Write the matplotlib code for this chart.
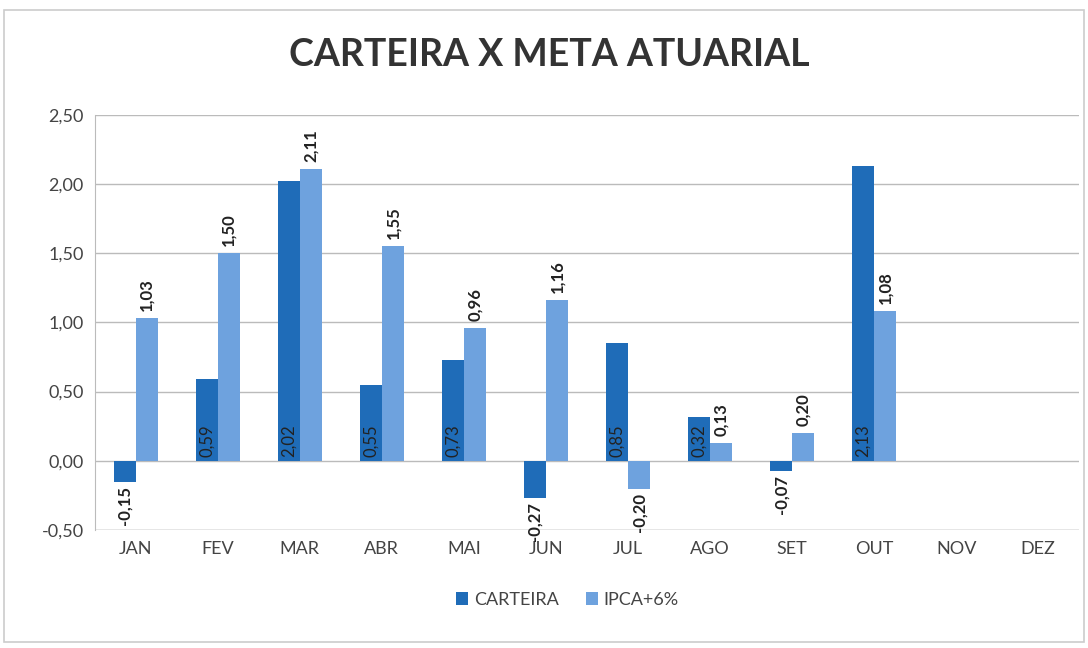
import numpy as np
import matplotlib
matplotlib.use('Agg')
import matplotlib.pyplot as plt
from matplotlib.patches import Rectangle

plt.rcParams['font.family'] = ['Lato', 'DejaVu Sans']

# dados
meses = ['JAN', 'FEV', 'MAR', 'ABR', 'MAI', 'JUN', 'JUL', 'AGO', 'SET', 'OUT', 'NOV', 'DEZ']
carteira = [-0.15, 0.59, 2.02, 0.55, 0.73, -0.27, 0.85, 0.32, -0.07, 2.13]
ipca6 = [1.03, 1.50, 2.11, 1.55, 0.96, 1.16, -0.20, 0.13, 0.20, 1.08]
yticks = [-0.5, 0.0, 0.5, 1.0, 1.5, 2.0, 2.5]

cor_cart = '#1f6cb8'
cor_ipca = '#6ea2de'

def fmt(v):
    return ('%.2f' % v).replace('.', ',')

fig = plt.figure(figsize=(10.88, 6.48), dpi=100)
ax = fig.add_axes([0.087, 0.182, 0.905, 0.641])

x = np.arange(len(meses))
w = 0.27
xc = x[:len(carteira)] - w/2
xi = x[:len(ipca6)] + w/2

ax.bar(xc, carteira, w, color=cor_cart, label='CARTEIRA', zorder=3)
ax.bar(xi, ipca6, w, color=cor_ipca, label='IPCA+6%', zorder=3)

# rotulos da carteira
for xx, v in zip(xc, carteira):
    if v >= 0:
        ax.text(xx, 0.03, fmt(v), rotation=90, ha='center', va='bottom',
                fontsize=12, color='#222222', zorder=4)
    else:
        ax.text(xx, v - 0.03, fmt(v), rotation=90, ha='center', va='top',
                fontsize=12, fontweight='bold', color='#222222', zorder=4)

# rotulos do IPCA+6%
for xx, v in zip(xi, ipca6):
    if v >= 0:
        ax.text(xx, v + 0.05, fmt(v), rotation=90, ha='center', va='bottom',
                fontsize=12, fontweight='bold', color='#222222', zorder=4)
    else:
        ax.text(xx, v - 0.03, fmt(v), rotation=90, ha='center', va='top',
                fontsize=12, fontweight='bold', color='#222222', zorder=4)

ax.set_xlim(-0.5, len(meses) - 0.5)
ax.set_ylim(-0.5, 2.5)
ax.set_yticks(yticks)
ax.set_yticklabels([fmt(t) for t in yticks], fontsize=13, color='#444444')
ax.set_xticks(x)
ax.set_xticklabels(meses, fontsize=13, color='#444444')
ax.tick_params(axis='both', length=0, pad=8)
ax.grid(axis='y', color='#bbbbbb', linewidth=1, zorder=0)
for s in ['top', 'right', 'bottom']:
    ax.spines[s].set_visible(False)
ax.spines['left'].set_color('#bbbbbb')
ax.axhline(-0.5, color='#bbbbbb', linewidth=1, zorder=1)

fig.text(0.505, 0.915, 'CARTEIRA X META ATUARIAL', ha='center', va='center',
         fontsize=27, fontweight='bold', color='#333333')

ax.legend(loc='upper center', bbox_to_anchor=(0.48, -0.11), ncol=2, frameon=False,
          fontsize=13, handlelength=0.7, handleheight=0.7, columnspacing=1.5,
          handletextpad=0.3, labelcolor='#444444')

fig.patches.append(Rectangle((0.004, 0.01), 0.992, 0.975, transform=fig.transFigure,
                             fill=False, edgecolor='#cccccc', linewidth=1.2))

fig.savefig('out.png', dpi=100)
